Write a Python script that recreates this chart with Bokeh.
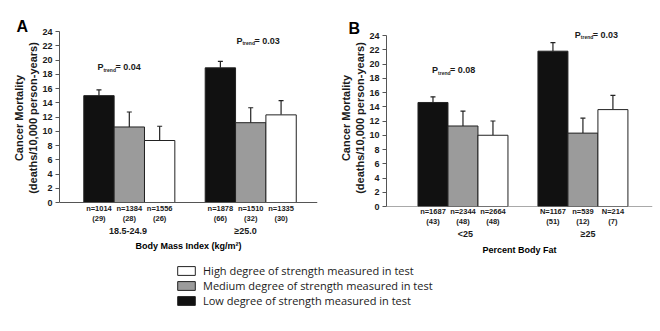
from bokeh.plotting import figure
from bokeh.models import (Range1d, FixedTicker, Label, ColumnDataSource,
                          Legend, LegendItem, Whisker, TeeHead, LinearAxis,
                          Span, Title)
from bokeh.layouts import column, row
from bokeh.embed import file_html
from bokeh.resources import INLINE

# ---- data -----------------------------------------------------------------
bmi_groups = ["18.5-24.9", "\u226525.0"]
fat_groups = ["<25", "\u226525"]

bmi_low = [15.0, 18.9]
bmi_low_err = [0.8, 0.9]
bmi_med = [10.6, 11.2]
bmi_med_err = [2.1, 2.1]
bmi_high = [8.7, 12.3]
bmi_high_err = [2.0, 2.0]

fat_low = [14.6, 21.8]
fat_low_err = [0.8, 1.2]
fat_med = [11.3, 10.3]
fat_med_err = [2.1, 2.1]
fat_high = [10.0, 13.6]
fat_high_err = [2.0, 2.0]

# sample size and deaths, ordered group by group: low, medium, high
bmi_n = ["n=1014", "n=1384", "n=1556", "n=1878", "n=1510", "n=1335"]
bmi_deaths = ["(29)", "(28)", "(26)", "(66)", "(32)", "(30)"]
fat_n = ["n=1687", "n=2344", "n=2664", "N=1167", "n=539", "N=214"]
fat_deaths = ["(43)", "(48)", "(48)", "(51)", "(12)", "(7)"]

bmi_p = ["0.04", "0.03"]
fat_p = ["0.08", "0.03"]

y_ticks = list(range(0, 25, 2))

legend_labels = ["High degree of strength measured in test",
                 "Medium degree of strength measured in test",
                 "Low degree of strength measured in test"]

# ---- styling --------------------------------------------------------------
FONT = "Liberation Sans"
BLACK = "#111111"
GRAY = "#9b9b9b"
WHITE = "#ffffff"
EDGE = "#222222"
AXIS = "#555555"
TEXT = "#1a1a1a"


def make_panel(letter, centers, x_end, y_lims, left, right, series, n_text,
               d_text, groups, group_x, title, p_vals, p_pos, stands,
               letter_pos):
    p = figure(width=330, height=262, x_range=Range1d(0, x_end),
               y_range=Range1d(*y_lims), output_backend="svg",
               toolbar_location=None, min_border_left=left,
               min_border_right=right, min_border_top=29,
               min_border_bottom=56, background_fill_color="white",
               border_fill_color="white")
    p.outline_line_color = None
    p.grid.visible = False

    # panel letter
    p.title = Title(text=letter, align="left", offset=letter_pos[0],
                    standoff=letter_pos[1], text_font=FONT,
                    text_font_size="16px", text_font_style="bold",
                    text_color="#000000")

    # y axis
    p.yaxis.bounds = (0, 24)
    p.yaxis.ticker = FixedTicker(ticks=y_ticks)
    p.yaxis.minor_tick_line_color = None
    p.yaxis.major_tick_in = 0
    p.yaxis.major_tick_out = 4
    p.yaxis.major_label_standoff = 3
    p.yaxis.major_label_text_font = FONT
    p.yaxis.major_label_text_font_size = "9px"
    p.yaxis.major_label_text_font_style = "bold"
    p.yaxis.major_label_text_color = TEXT
    p.yaxis.axis_line_color = AXIS
    p.yaxis.major_tick_line_color = AXIS
    p.yaxis.axis_label = "Cancer Mortality\n(deaths/10,000 person-years)"
    p.yaxis.axis_label_standoff = stands[0]
    p.yaxis.axis_label_text_font = FONT
    p.yaxis.axis_label_text_font_size = "11px"
    p.yaxis.axis_label_text_font_style = "bold"
    p.yaxis.axis_label_text_color = TEXT

    # baseline at zero
    p.add_layout(Span(location=0, dimension="width", line_color=AXIS,
                      line_width=1))

    # bars: low (black), medium (gray), high (white)
    xs_all = []
    for off, (vals, errs, color) in zip((-1, 0, 1), series):
        xs = [c + off for c in centers]
        src = ColumnDataSource(dict(x=xs, top=vals,
                                    upper=[v + e for v, e in zip(vals, errs)]))
        p.vbar(x="x", top="top", width=1, source=src, fill_color=color,
               line_color=EDGE, line_width=1)
        p.add_layout(Whisker(source=src, base="x", lower="top", upper="upper",
                             line_color=EDGE, line_width=1.2, lower_head=None,
                             upper_head=TeeHead(size=5, line_color=EDGE,
                                                line_width=1.2)))
        xs_all.append(xs)
    bar_x = [xs_all[k][g] for g in range(len(centers)) for k in range(3)]

    # n and deaths under each bar, as tick labels of the bottom axis
    xa = p.xaxis[0]
    xa.ticker = FixedTicker(ticks=bar_x)
    xa.major_label_overrides = {x: f"{n}\n{d}"
                                for x, n, d in zip(bar_x, n_text, d_text)}
    xa.axis_line_color = None
    xa.major_tick_line_color = None
    xa.minor_tick_line_color = None
    xa.major_tick_in = 0
    xa.major_tick_out = 0
    xa.major_label_standoff = stands[1]
    xa.major_label_text_font = FONT
    xa.major_label_text_font_size = "7.5px"
    xa.major_label_text_font_style = "bold"
    xa.major_label_text_color = TEXT

    # group names and axis title on a second bottom axis
    ga = LinearAxis(ticker=FixedTicker(ticks=group_x),
                    major_label_overrides=dict(zip(group_x, groups)),
                    axis_line_color=None, major_tick_line_color=None,
                    minor_tick_line_color=None, major_tick_in=0,
                    major_tick_out=0, major_label_standoff=stands[2],
                    major_label_text_font=FONT,
                    major_label_text_font_size="9px",
                    major_label_text_font_style="bold",
                    major_label_text_color=TEXT,
                    axis_label=title, axis_label_standoff=stands[3],
                    axis_label_text_font=FONT,
                    axis_label_text_font_size="9px",
                    axis_label_text_font_style="bold",
                    axis_label_text_color="#000000")
    p.add_layout(ga, "below")

    # P for trend
    for val, (px, py) in zip(p_vals, p_pos):
        common = dict(y=py, text_baseline="middle", text_font=FONT,
                      text_color=TEXT, text_font_style="bold")
        p.add_layout(Label(x=px, text="P", text_font_size="9px", **common))
        p.add_layout(Label(x=px, x_offset=6, y_offset=-2.5, text="trend",
                           text_font_size="5px", **common))
        p.add_layout(Label(x=px, x_offset=18, text="= " + val,
                           text_font_size="9px", **common))
    return p


pA = make_panel("A", [2.3, 6.3], 8.5, (-4 / 7.125, 24 + 2 / 7.125), 59, 13,
                [(bmi_low, bmi_low_err, BLACK), (bmi_med, bmi_med_err, GRAY),
                 (bmi_high, bmi_high_err, WHITE)],
                bmi_n, bmi_deaths, bmi_groups, [2.26, 6.13],
                "Body Mass Index (kg/m\u00b2)",
                bmi_p, [(1.25, 18.95), (5.83, 22.7)],
                (0, -3, -1, 2), (-43, -10))

pB = make_panel("B", [2.55, 6.55], 8.87, (0, 24 + 6 / 7.125), 56, 8,
                [(fat_low, fat_low_err, BLACK), (fat_med, fat_med_err, GRAY),
                 (fat_high, fat_high_err, WHITE)],
                fat_n, fat_deaths, fat_groups, [2.63, 6.72],
                "Percent Body Fat",
                fat_p, [(1.52, 19.1), (6.28, 24.1)],
                (0, 0, -1, 3), (-38, -15))

# ---- shared legend --------------------------------------------------------
pL = figure(width=660, height=69, x_range=Range1d(0, 1), y_range=Range1d(0, 1),
            output_backend="svg", toolbar_location=None, min_border=0,
            x_axis_location=None, y_axis_location=None,
            background_fill_color="white", border_fill_color="white")
pL.outline_line_color = None
pL.grid.visible = False
# hidden swatch renderers: only their legend glyphs are drawn
swatches = [pL.vbar(x=[0.5], top=[0.5], width=0.1, fill_color=c,
                    line_color=EDGE, visible=False)
            for c in (WHITE, GRAY, BLACK)]
legend = Legend(items=[LegendItem(label=t, renderers=[r])
                       for t, r in zip(legend_labels, swatches)],
                location=(175, 23), orientation="vertical",
                glyph_width=22, glyph_height=11, label_height=11,
                spacing=0, padding=0, margin=0, label_standoff=6,
                border_line_color=None, background_fill_alpha=0,
                inactive_fill_alpha=0,
                label_text_font="Open Sans", label_text_font_size="11px",
                label_text_color=TEXT)
pL.add_layout(legend)

layout = column(row(pA, pB), pL)
open("out.html", "w").write(file_html(layout, INLINE))
